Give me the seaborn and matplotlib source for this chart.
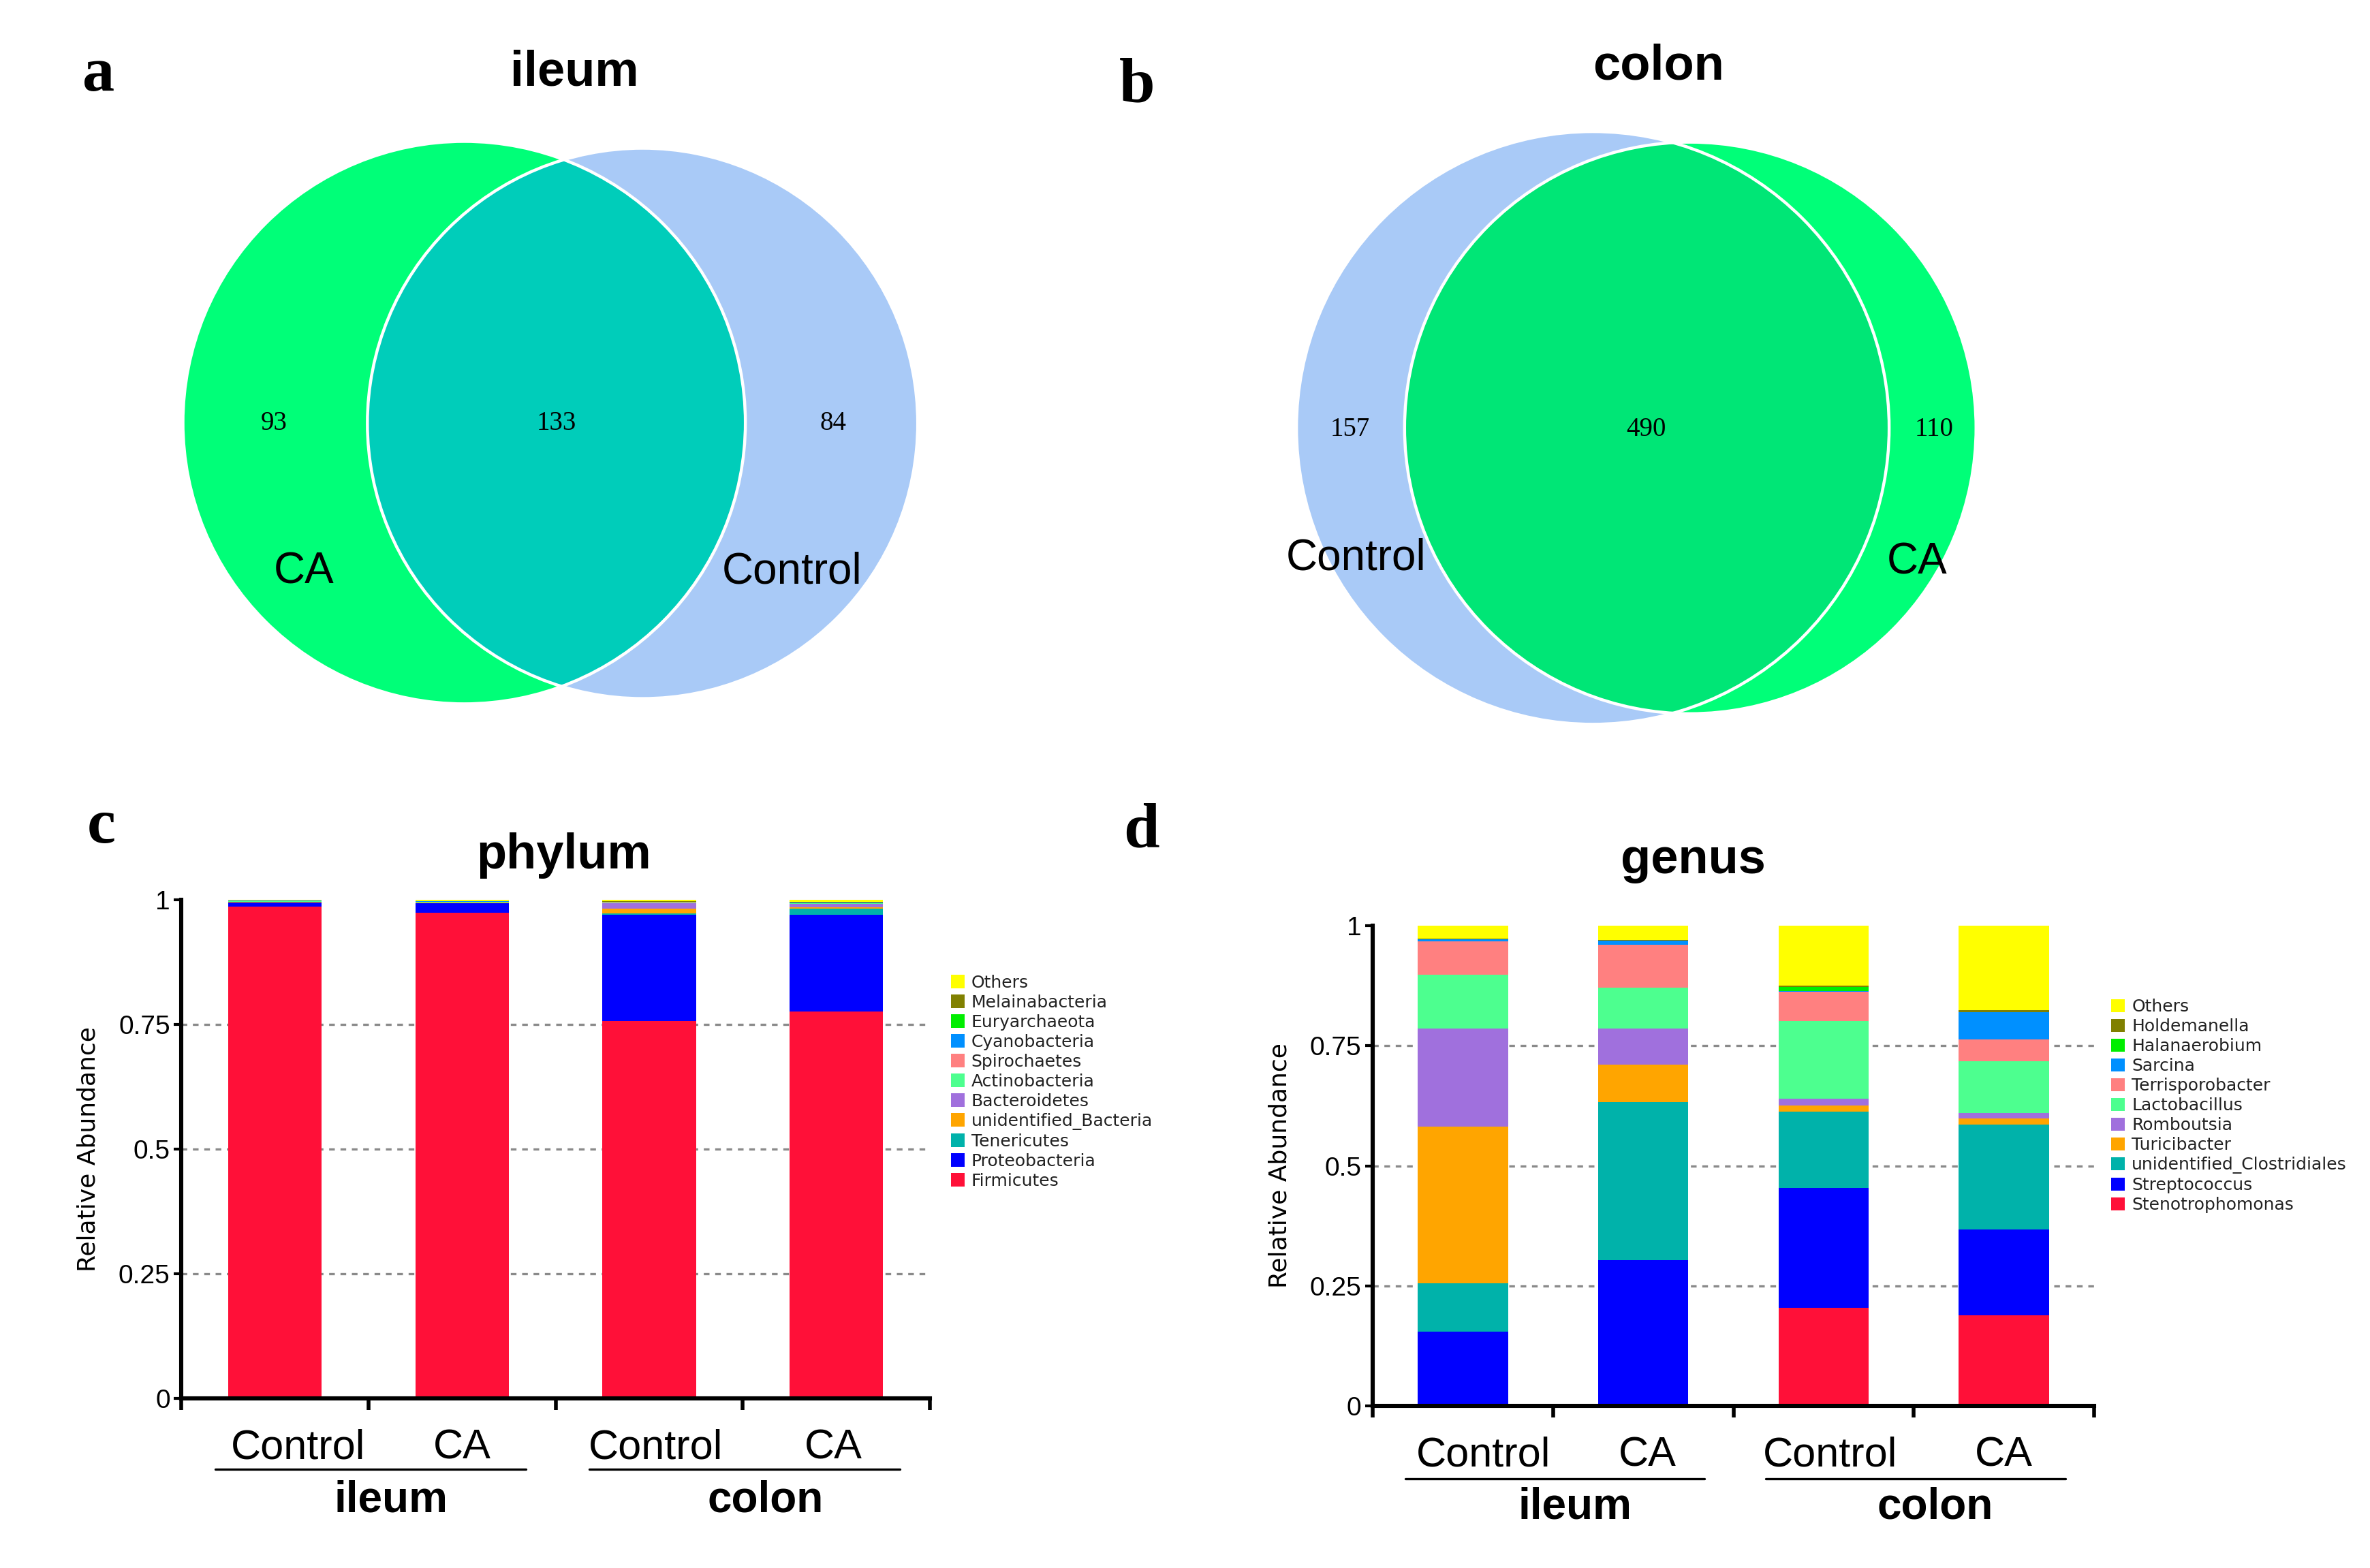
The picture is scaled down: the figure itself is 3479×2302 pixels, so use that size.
import pandas as pd
import matplotlib
matplotlib.use("Agg")
import matplotlib.pyplot as plt
import matplotlib.transforms as mtransforms
from matplotlib.patches import Circle, Patch
import seaborn as sns

sns.set_style("white")
plt.rcParams['font.family'] = ['Liberation Sans', 'DejaVu Sans']
plt.rcParams.update({'text.color': 'black', 'axes.labelcolor': 'black',
                     'xtick.color': 'black', 'ytick.color': 'black'})

# ---------------- data ----------------
samples = ["ileum_Control", "ileum_CA", "colon_Control", "colon_CA"]
sample_labels = ["Control", "CA", "Control", "CA"]
groups = ["ileum", "colon"]

# Venn counts: left-only, shared, right-only
venn_ileum_names = ["CA", "Control"]
venn_ileum_counts = [93, 133, 84]
venn_colon_names = ["Control", "CA"]
venn_colon_counts = [157, 490, 110]

phylum_taxa = ["Firmicutes", "Proteobacteria", "Tenericutes", "unidentified_Bacteria",
               "Bacteroidetes", "Actinobacteria", "Spirochaetes", "Cyanobacteria",
               "Euryarchaeota", "Melainabacteria", "Others"]
phylum_ileum_control = [0.986, 0.008, 0.0, 0.001, 0.001, 0.001, 0.0, 0.001, 0.0, 0.0, 0.002]
phylum_ileum_ca = [0.974, 0.019, 0.0, 0.001, 0.0, 0.002, 0.0, 0.001, 0.0, 0.0, 0.003]
phylum_colon_control = [0.757, 0.213, 0.002, 0.010, 0.011, 0.001, 0.001, 0.001, 0.0, 0.001, 0.003]
phylum_colon_ca = [0.776, 0.194, 0.0125, 0.002, 0.007, 0.001, 0.001, 0.001, 0.0, 0.001, 0.0045]

genus_taxa = ["Stenotrophomonas", "Streptococcus", "unidentified_Clostridiales", "Turicibacter",
              "Romboutsia", "Lactobacillus", "Terrisporobacter", "Sarcina",
              "Halanaerobium", "Holdemanella", "Others"]
genus_ileum_control = [0.0, 0.155, 0.100, 0.326, 0.205, 0.111, 0.070, 0.004, 0.0, 0.001, 0.028]
genus_ileum_ca = [0.0, 0.304, 0.329, 0.078, 0.074, 0.086, 0.089, 0.008, 0.0, 0.001, 0.031]
genus_colon_control = [0.205, 0.249, 0.158, 0.013, 0.014, 0.162, 0.061, 0.002, 0.008, 0.003, 0.125]
genus_colon_ca = [0.189, 0.178, 0.219, 0.013, 0.011, 0.107, 0.046, 0.056, 0.0, 0.005, 0.176]

taxon_colors = ["#FF1038", "#0000FF", "#00B2AA", "#FFA500", "#A070DD", "#4DFF8F",
                "#FF8080", "#0090FF", "#00EE00", "#808000", "#FFFF00"]

# ---------------- layout helpers (reference drawn at 1568 x 1037) ----------------
W, H = 1568, 1037


def rect(x0, y0, x1, y1):
    return [x0 / W, 1 - y1 / H, (x1 - x0) / W, (y1 - y0) / H]


fig = plt.figure(figsize=(17.4, 11.51), dpi=200)


def venn(box, circles, colors, inter_color, counts, count_pos, names, name_pos):
    ax = fig.add_axes(rect(*box))
    ax.set_xlim(box[0], box[2])
    ax.set_ylim(box[3], box[1])
    ax.axis('off')
    patches = []
    for (cx, cy, r), c in zip(circles, colors):
        p = Circle((cx, cy), r, fc=c, ec='none', zorder=1)
        ax.add_patch(p)
        patches.append(p)
    inter = Circle(circles[1][:2], circles[1][2], fc=inter_color, ec='none', zorder=2)
    ax.add_patch(inter)
    inter.set_clip_path(patches[0])
    for (cx, cy, r) in circles:
        ax.add_patch(Circle((cx, cy), r, fill=False, ec='white', lw=1.6, zorder=3))
    for n, (x, y) in zip(counts, count_pos):
        ax.text(x, y, str(n), ha='center', va='center', fontsize=14,
                family='Liberation Serif', zorder=4)
    for n, (x, y) in zip(names, name_pos):
        ax.text(x, y, n, ha='center', va='center', fontsize=23, zorder=4)
    return ax


# panel a: ileum Venn
venn((90, 70, 640, 490),
     [(307, 279.5, 186), (425, 280, 182)],
     ["#00FF78", "#A9CAF7"], "#00CDBA",
     venn_ileum_counts, [(181, 280), (368, 280), (551, 280)],
     venn_ileum_names, [(201, 378), (524, 378)])

# panel b: colon Venn
venn((830, 70, 1340, 500),
     [(1053.5, 283, 196), (1118, 283, 189)],
     ["#A9CAF7", "#00FF78"], "#00E676",
     venn_colon_counts, [(893, 284), (1089, 284), (1279, 284)],
     venn_colon_names, [(897, 369), (1268, 372)])


def stacked_panel(box, taxa, columns, legend_anchor, line_y, text_y, label_shift):
    ax = fig.add_axes(rect(*box))
    table = pd.DataFrame(dict(zip(samples, columns)), index=taxa)
    cum = table.cumsum()
    # draw cumulative totals from the top layer down so each layer overlays the one above
    for i in reversed(range(len(taxa))):
        sns.barplot(x=samples, y=cum.iloc[i].to_numpy(), color=taxon_colors[i],
                    width=0.5, saturation=1, linewidth=0, errorbar=None,
                    ax=ax, zorder=2)
    for v in [0.25, 0.5, 0.75]:
        ax.axhline(v, color='#8a8a8a', lw=1.2, ls=(0, (2.5, 2.5)), zorder=1)
    ax.set_xlim(-0.5, 3.5)
    ax.set_ylim(0, 1)
    sns.despine(ax=ax)
    for s in ['left', 'bottom']:
        ax.spines[s].set_linewidth(2.2)
        ax.spines[s].set_color('black')
    ax.set_xticks([-0.5, 0.5, 1.5, 2.5, 3.5])
    ax.set_xticklabels([])
    ax.set_xticks(range(len(samples)), minor=True)
    ax.set_xticklabels(sample_labels, minor=True, fontsize=22)
    ax.tick_params(axis='x', which='major', direction='out', length=6, width=2, bottom=True)
    ax.tick_params(axis='x', which='minor', length=0, pad=16)
    for lab, dx in zip(ax.get_xticklabels(minor=True), label_shift):
        lab.set_transform(lab.get_transform() +
                          mtransforms.ScaledTranslation(dx, 0, fig.dpi_scale_trans))
    ax.set_yticks([0, 0.25, 0.5, 0.75, 1])
    ax.set_yticklabels(["0", "0.25", "0.5", "0.75", "1"], fontsize=14)
    ax.tick_params(axis='y', direction='out', length=4, width=1.5, left=True, pad=2)
    ax.set_xlabel('')
    ax.set_ylabel('Relative Abundance', fontsize=13, family='DejaVu Sans', labelpad=10)

    tr = mtransforms.blended_transform_factory(ax.transData, ax.transAxes)
    for g, name in zip([0.5, 2.5], groups):
        ax.plot([g - 0.82, g + 0.84], [line_y, line_y], color='black', lw=1.2,
                transform=tr, clip_on=False)
        ax.text(g + 0.12, text_y, name, transform=tr, ha='center', va='center',
                fontsize=23, fontweight='bold')

    handles = [Patch(facecolor=c, edgecolor='none', label=t)
               for t, c in zip(taxa, taxon_colors)][::-1]
    leg = ax.legend(handles=handles, loc='upper left', bbox_to_anchor=legend_anchor,
                    frameon=False, prop={'family': 'DejaVu Sans', 'size': 9},
                    handlelength=0.8, handleheight=0.8, handletextpad=0.4,
                    labelspacing=0.2, borderaxespad=0, borderpad=0)
    for t in leg.get_texts():
        t.set_color('#222222')
    return ax


# panel c: phylum
stacked_panel((120, 595, 615, 925), phylum_taxa,
              [phylum_ileum_control, phylum_ileum_ca, phylum_colon_control, phylum_colon_ca],
              (1.028, 0.85), -0.142, -0.203, [0.17, 0.0, 0.05, -0.02])

# panel d: genus
stacked_panel((908, 612, 1385, 930), genus_taxa,
              [genus_ileum_control, genus_ileum_ca, genus_colon_control, genus_colon_ca],
              (1.024, 0.848), -0.151, -0.21, [0.15, 0.03, 0.05, 0.0])

# titles and panel letters
for txt, x, y in [("ileum", 380, 48), ("colon", 1097, 44), ("phylum", 373, 566), ("genus", 1120, 569)]:
    fig.text(x / W, 1 - y / H, txt, ha='center', va='center', fontsize=26, fontweight='bold')
for txt, x, y in [("a", 65, 50), ("b", 752, 57), ("c", 67, 547), ("d", 755, 550)]:
    fig.text(x / W, 1 - y / H, txt, ha='center', va='center', fontsize=34,
             fontweight='bold', family='Liberation Serif')

fig.savefig('out.png', dpi=200)
